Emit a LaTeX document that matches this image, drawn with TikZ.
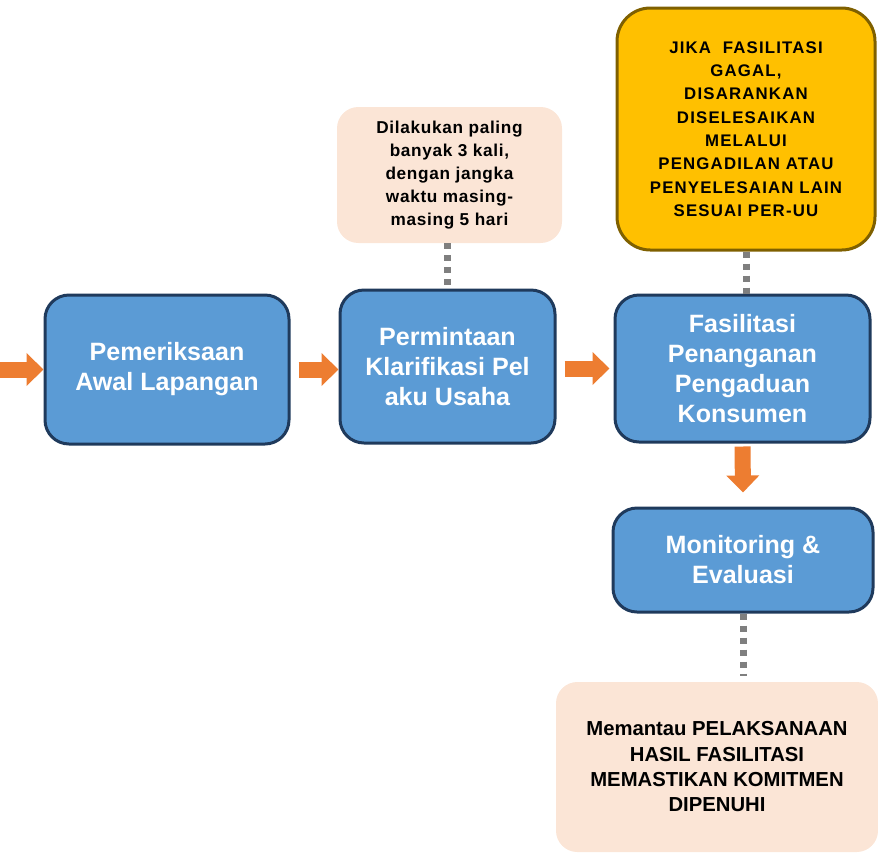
\documentclass[tikz,border=0pt]{standalone}
\usepackage{fontspec}
\setmainfont{Liberation Sans}
\usetikzlibrary{arrows.meta}
\definecolor{boxblue}{HTML}{5B9BD5}
\definecolor{boxedge}{HTML}{1F3A5C}
\definecolor{goldfill}{HTML}{FFC000}
\definecolor{goldedge}{HTML}{7F6000}
\definecolor{peach}{HTML}{FBE5D6}
\definecolor{arroworange}{HTML}{ED7D31}
\definecolor{dotgray}{HTML}{7F7F7F}
\begin{document}
\begin{tikzpicture}[x=0.75pt,y=-0.75pt,
  bluebox/.style={draw=boxedge, line width=2.25pt, fill=boxblue, rounded corners=18pt,
    align=center, text=white, inner sep=0pt,
    font=\fontsize{18.8}{22.5}\selectfont\bfseries},
  goldbox/.style={draw=goldedge, line width=2.25pt, fill=goldfill, rounded corners=25pt,
    align=center, text=black, inner sep=0pt,
    font=\fontsize{12.6}{17.5}\selectfont\bfseries\addfontfeatures{LetterSpace=7}},
  notebox/.style={fill=peach, rounded corners=16pt, align=center, text=black, inner sep=0pt},
  orarrow/.style={draw=arroworange, line width=12pt,
    -{Triangle[length=12.75pt,width=24pt]}},
  dotline/.style={draw=dotgray, line width=5.25pt, dash pattern=on 4.5pt off 4.5pt}
]
\useasboundingbox (0,0) rectangle (878,854);

% main process boxes
\node[bluebox, minimum width=183pt, minimum height=111.75pt] (n1) at (167,369.5)
  {Pemeriksaan\\Awal Lapangan};
\node[bluebox, minimum width=161.25pt, minimum height=114.75pt] (n2) at (447.5,366.5)
  {Permintaan\\Klarifikasi Pel\\aku Usaha};
\node[bluebox, minimum width=191.25pt, minimum height=110.25pt] (n3) at (742.5,368.5)
  {Fasilitasi\\Penanganan\\Pengaduan\\Konsumen};
\node[bluebox, minimum width=195pt, minimum height=78pt] (n4) at (743,560)
  {Monitoring \&\\Evaluasi};

% note boxes
\node[goldbox, minimum width=193.5pt, minimum height=181.5pt] (g) at (746,129)
  {JIKA\ \ FASILITASI\\GAGAL,\\DISARANKAN\\DISELESAIKAN\\MELALUI\\PENGADILAN ATAU\\PENYELESAIAN LAIN\\SESUAI PER-UU};
\node[notebox, minimum width=168.75pt, minimum height=102pt,
  font=\fontsize{12.9}{17.3}\selectfont\bfseries\addfontfeatures{LetterSpace=4}] (p1) at (449.5,175)
  {Dilakukan paling\\banyak 3 kali,\\dengan jangka\\waktu masing-\\masing 5 hari};
\node[notebox, minimum width=241.5pt, minimum height=127.5pt,
  font=\fontsize{15.2}{19}\selectfont\bfseries] (p2) at (717,767)
  {Memantau PELAKSANAAN\\HASIL FASILITASI\\MEMASTIKAN KOMITMEN\\DIPENUHI};

% orange block arrows
\coordinate (in) at (0,369.5);
\draw[orarrow] (in) -- (n1.west);
\draw[orarrow] ([xshift=6pt]n1.east) -- (n1.east -| n2.west);
\draw[orarrow] ([xshift=6pt]n2.east |- n3.west) -- ([xshift=-3pt]n3.west);
\draw[orarrow] ([yshift=-2.25pt]n3.south) -- ([yshift=10.5pt]n4.north);

% dotted connectors
\draw[dotline] (p1.south -| n2.north) -- (n2.north);
\draw[dotline] (g.south) -- (g.south |- n3.north);
\draw[dotline] (n4.south) -- ([yshift=4.5pt]p2.north -| n4.south);
\end{tikzpicture}
\end{document}
